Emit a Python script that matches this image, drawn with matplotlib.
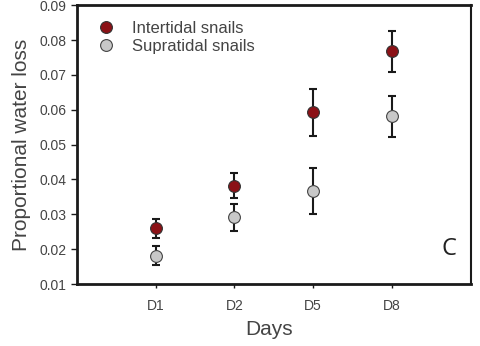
import matplotlib.pyplot as plt

plt.rcParams['font.family'] = ['Liberation Sans', 'DejaVu Sans']

days = ["D1", "D2", "D5", "D8"]
inter_mean = [0.0260, 0.0382, 0.0593, 0.0768]
inter_err = [0.0027, 0.0036, 0.0067, 0.0059]
supra_mean = [0.0181, 0.0291, 0.0367, 0.0581]
supra_err = [0.0027, 0.0040, 0.0066, 0.0059]

x = list(range(1, len(days) + 1))

fig = plt.figure(figsize=(4.8, 3.46), dpi=100)
ax = fig.add_axes([0.160, 0.179, 0.821, 0.806])

ax.errorbar(x, inter_mean, yerr=inter_err, fmt="none", ecolor="#1a1a1a",
            elinewidth=1.5, capsize=3, capthick=1.5, zorder=2)
ax.errorbar(x, supra_mean, yerr=supra_err, fmt="none", ecolor="#1a1a1a",
            elinewidth=1.5, capsize=3, capthick=1.5, zorder=2)
ax.plot(x, inter_mean, "o", color="#8b1116", mec="#333333", mew=0.8, ms=8.5,
        label="Intertidal snails", zorder=3)
ax.plot(x, supra_mean, "o", color="#c8c8c8", mec="#444444", mew=0.8, ms=8.5,
        label="Supratidal snails", zorder=3)

ax.set_xlim(0, 5)
ax.set_ylim(0.01, 0.09)
ax.set_xticks(x)
ax.set_xticklabels(days)
ax.set_yticks([0.01, 0.02, 0.03, 0.04, 0.05, 0.06, 0.07, 0.08, 0.09])
ax.set_yticklabels(["0.01", "0.02", "0.03", "0.04", "0.05", "0.06", "0.07", "0.08", "0.09"])
ax.tick_params(labelsize=10, labelcolor="#444444", color="#1a1a1a", width=1, length=4)
ax.tick_params(axis="x", pad=8, length=3)

for s in ["left", "bottom", "top"]:
    ax.spines[s].set_linewidth(2)
ax.spines["right"].set_linewidth(1.5)
for s in ax.spines.values():
    s.set_color("#1a1a1a")

ax.set_ylabel("Proportional water loss", fontsize=15, color="#444444", labelpad=6)
ax.set_xlabel("Days", fontsize=15, color="#444444", labelpad=3)
ax.xaxis.set_label_coords(0.487, -0.128)

leg = ax.legend(loc="upper left", frameon=False, fontsize=12, handletextpad=0.7,
                borderaxespad=0.2, labelspacing=0.2, bbox_to_anchor=(0.01, 0.98),
                handlelength=1.8)
for t in leg.get_texts():
    t.set_color("#444444")

ax.text(0.945, 0.127, "C", transform=ax.transAxes, fontsize=17, ha="center", va="center",
        color="#222222", family="Open Sans")

fig.savefig("out.png", dpi=100)
